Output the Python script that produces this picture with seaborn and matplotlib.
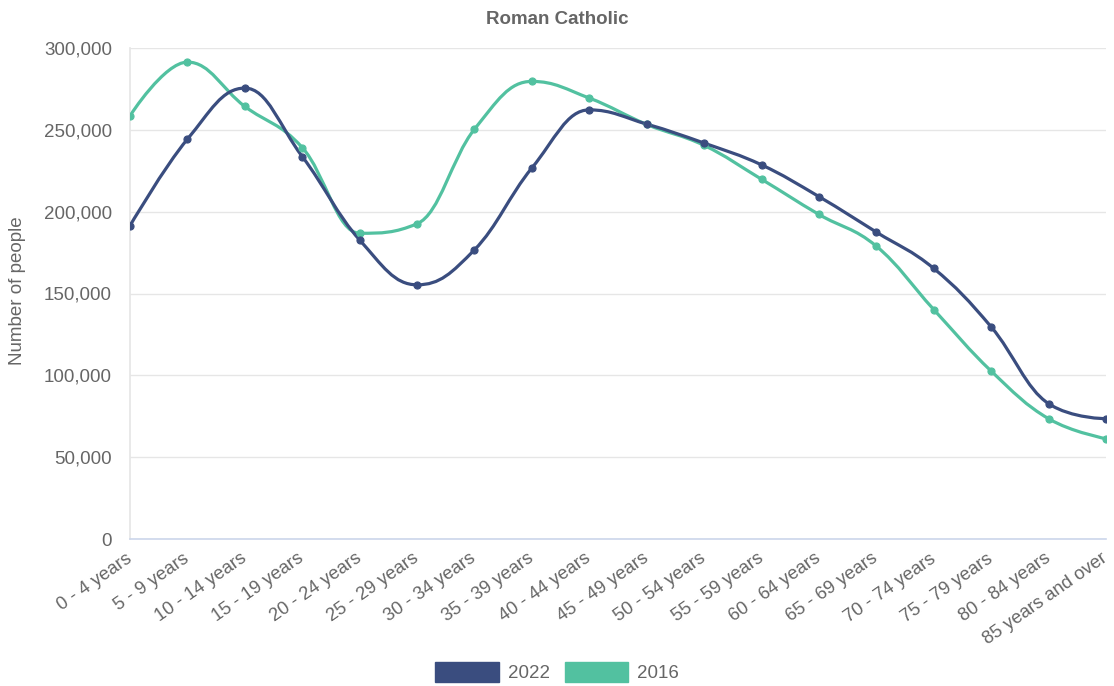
import numpy as np
import pandas as pd
import seaborn as sns
import matplotlib
matplotlib.use("Agg")
import matplotlib.pyplot as plt
import matplotlib.transforms as mtransforms
from matplotlib.path import Path
from matplotlib.patches import PathPatch, Patch
from matplotlib.ticker import FuncFormatter

# ---- data -------------------------------------------------------------
age_groups = [
    "0 - 4 years", "5 - 9 years", "10 - 14 years", "15 - 19 years",
    "20 - 24 years", "25 - 29 years", "30 - 34 years", "35 - 39 years",
    "40 - 44 years", "45 - 49 years", "50 - 54 years", "55 - 59 years",
    "60 - 64 years", "65 - 69 years", "70 - 74 years", "75 - 79 years",
    "80 - 84 years", "85 years and over",
]
pop_2022 = [191400, 244300, 275500, 233700, 182700, 155300, 176700, 226700,
            262200, 253500, 241900, 228600, 209200, 187500, 165300, 129600,
            82700, 73500]
pop_2016 = [258600, 291400, 264300, 239200, 186800, 192600, 250400, 279600,
            269400, 253300, 240500, 219800, 198300, 178900, 140200, 102600,
            73500, 61300]
series_names = ["2022", "2016"]
series_colors = {"2022": "#3a4d7f", "2016": "#52c1a0"}
y_ticks = [0, 50000, 100000, 150000, 200000, 250000, 300000]

title_text = "Roman Catholic"
y_label = "Number of people"

# ---- styling ----------------------------------------------------------
sns.set_theme(style="white")
plt.rcParams["font.family"] = ["Liberation Sans", "DejaVu Sans"]
text_grey = "#666666"
fs = 13.5

df = pd.DataFrame({
    "pos": np.tile(np.arange(len(age_groups)), 2),
    "people": pop_2022 + pop_2016,
    "year": np.repeat(series_names, len(age_groups)),
})


def spline_path(xs, ys, smoothing=1.5):
    """Cubic Bezier path through the points (Highcharts-style spline)."""
    n = len(xs)
    denom = smoothing + 1
    left = [(xs[i], ys[i]) for i in range(n)]
    right = [(xs[i], ys[i]) for i in range(n)]
    for i in range(1, n - 1):
        px, py = xs[i], ys[i]
        lx, ly = xs[i - 1], ys[i - 1]
        nx, ny = xs[i + 1], ys[i + 1]
        lcx = (smoothing * px + lx) / denom
        lcy = (smoothing * py + ly) / denom
        rcx = (smoothing * px + nx) / denom
        rcy = (smoothing * py + ny) / denom
        if rcx != lcx:
            corr = ((rcy - lcy) * (rcx - px)) / (rcx - lcx) + py - rcy
            lcy += corr
            rcy += corr
        if lcy > ly and lcy > py:
            lcy = max(ly, py)
            rcy = 2 * py - lcy
        elif lcy < ly and lcy < py:
            lcy = min(ly, py)
            rcy = 2 * py - lcy
        if rcy > ny and rcy > py:
            rcy = max(ny, py)
            lcy = 2 * py - rcy
        elif rcy < ny and rcy < py:
            rcy = min(ny, py)
            lcy = 2 * py - rcy
        left[i] = (lcx, lcy)
        right[i] = (rcx, rcy)
    verts = [(xs[0], ys[0])]
    codes = [Path.MOVETO]
    for i in range(1, n):
        verts += [right[i - 1], left[i], (xs[i], ys[i])]
        codes += [Path.CURVE4] * 3
    return Path(verts, codes)


fig = plt.figure(figsize=(11.14, 6.86), dpi=100)
ax = fig.add_axes([130 / 1114, 1 - 539 / 686, (1106 - 130) / 1114, (539 - 48) / 686])

# smooth lines (2016 first so 2022 sits on top)
for name in ["2016", "2022"]:
    sub = df[df["year"] == name]
    path = spline_path(sub["pos"].to_numpy(float), sub["people"].to_numpy(float))
    ax.add_patch(PathPatch(path, facecolor="none", edgecolor=series_colors[name],
                           lw=2.3, capstyle="round", joinstyle="round",
                           zorder=3 if name == "2022" else 2))

for name in ["2016", "2022"]:
    sub = df[df["year"] == name]
    sns.scatterplot(data=sub, x="pos", y="people", color=series_colors[name],
                    s=26, linewidth=0.8, edgecolor=series_colors[name],
                    legend=False, ax=ax, zorder=4 if name == "2022" else 3.5)

ax.set_xlim(0, len(age_groups) - 1)
ax.set_ylim(0, 300000)
ax.set_yticks(y_ticks)
ax.yaxis.set_major_formatter(FuncFormatter(lambda v, p: f"{int(v):,}"))
ax.set_xticks(range(len(age_groups)))
ax.set_xticklabels(age_groups, rotation=35, ha="right", rotation_mode="anchor")

ax.grid(axis="y", color="#e6e6e6", lw=1)
ax.grid(axis="x", visible=False)
ax.set_axisbelow(True)

for side in ["top", "right"]:
    ax.spines[side].set_visible(False)
ax.spines["left"].set_color("#e6e6e6")
ax.spines["bottom"].set_color("#ccd6eb")
ax.spines["bottom"].set_linewidth(1.2)

ax.tick_params(axis="y", length=11, color="#e6e6e6", pad=2,
               labelsize=fs, labelcolor=text_grey)
ax.tick_params(axis="x", length=0, pad=8, labelsize=13.2, labelcolor=text_grey)

ax.set_xlabel("")
ax.set_ylabel("")
fig.text(18 / 1114, 1 - 291 / 686, y_label, rotation=90, ha="center", va="center",
         fontsize=fs, color=text_grey)
fig.text(0.5, 1 - 20 / 686, title_text, ha="center", va="center",
         fontsize=fs, fontweight="bold", color=text_grey)

handles = [Patch(facecolor=series_colors[n], edgecolor=series_colors[n], label=n)
           for n in series_names]
fig.legend(handles=handles, loc="center", bbox_to_anchor=(0.5, 1 - 672 / 686),
           ncol=2, frameon=False, fontsize=fs, handlelength=3.4, handleheight=1.25,
           columnspacing=0.8, handletextpad=0.45, labelcolor=text_grey)

# nudge the slanted category labels a little to the left of their ticks
fig.canvas.draw()
shift = mtransforms.ScaledTranslation(-5 / 100, 0, fig.dpi_scale_trans)
for tick in ax.xaxis.get_major_ticks():
    tick.label1.set_transform(tick.label1.get_transform() + shift)

fig.savefig("out.png", dpi=100, facecolor="white")
